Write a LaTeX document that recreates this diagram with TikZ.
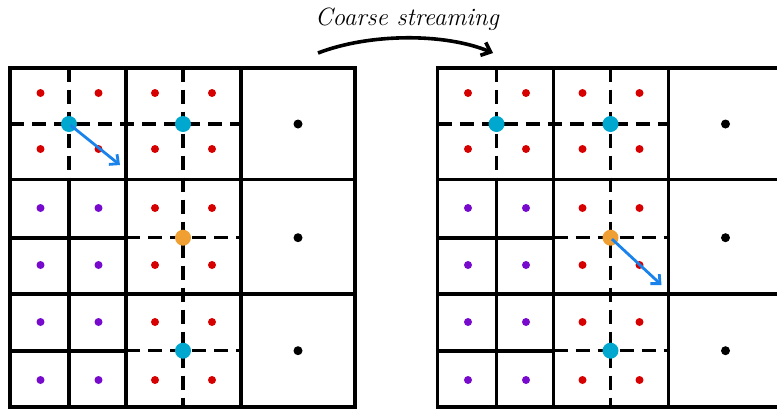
\documentclass[tikz,border=0pt]{standalone}
\usetikzlibrary{arrows.meta}
\definecolor{dred}{RGB}{215,0,0}
\definecolor{dpurple}{RGB}{120,10,205}
\definecolor{dcyan}{RGB}{0,168,208}
\definecolor{dorange}{RGB}{240,160,50}
\definecolor{dblue}{RGB}{25,130,235}
\tikzset{
  gridline/.style={line width=3.6pt, line cap=rect},
  dashline/.style={line width=3.2pt, dash pattern=on 14pt off 8pt},
  smalldot/.style={circle, fill=#1, inner sep=0pt, minimum size=8pt},
  bigdot/.style={circle, fill=#1, inner sep=0pt, minimum size=16pt},
  blackdot/.style={circle, fill=black, inner sep=0pt, minimum size=9pt},
  velarrow/.style={line width=2.8pt, dblue, -{Straight Barb[length=7pt,width=13pt]}, shorten <=2pt},
}
\newcommand{\latticegrid}{%
  % dashed lines
  \draw[dashline] (10,124) -- (241,124);
  \draw[dashline] (69,67.7) -- (69,179.3);
  \draw[dashline] (183,67.7) -- (183,406.7);
  \draw[dashline] (126,237.7) -- (241,237.7);
  \draw[dashline] (126,350.7) -- (241,350.7);
  % solid grid
  \draw[gridline] (10,67.7) rectangle (355,406.7);
  \draw[gridline] (126,67.7) -- (126,406.7);
  \draw[gridline] (241,67.7) -- (241,406.7);
  \draw[gridline] (10,179.3) -- (355,179.3);
  \draw[gridline] (10,293.7) -- (355,293.7);
  \draw[gridline] (69,179.3) -- (69,406.7);
  \draw[gridline] (10,237.7) -- (126,237.7);
  \draw[gridline] (10,350.7) -- (126,350.7);
  % fine dots
  \foreach \x/\i in {40.5/1,98.5/2}{
    \foreach \y/\j in {93/1,149/2}{\node[smalldot=dred] (r\i\j) at (\x,\y) {};}
    \foreach \y/\j in {208/3,265/4,322/5,380/6}{\node[smalldot=dpurple] (p\i\j) at (\x,\y) {};}
  }
  \foreach \x/\i in {155/3,212/4}{
    \foreach \y/\j in {93/1,149/2,208/3,265/4,322/5,380/6}{\node[smalldot=dred] (r\i\j) at (\x,\y) {};}
  }
  % coarse dots
  \foreach \y/\j in {124/1,237.7/2,350.7/3}{\node[blackdot] (k\j) at (298,\y) {};}
  \node[bigdot=dcyan] (c1) at (69,124) {};
  \node[bigdot=dcyan] (c2) at (183,124) {};
  \node[bigdot=dorange] (o1) at (183,237.7) {};
  \node[bigdot=dcyan] (c3) at (183,350.7) {};
}
\begin{document}
\begin{tikzpicture}[x=1pt,y=-1pt]
\useasboundingbox (0,0) rectangle (777,410);
\clip (0,0) rectangle (777,410);
\begin{scope}[name prefix=L-]
  \latticegrid
  \coordinate (tip) at (120,165);
  \draw[velarrow] (c1.center) -- (tip);
\end{scope}
\begin{scope}[xshift=427.5pt,name prefix=R-]
  \latticegrid
  \coordinate (tip) at (234,285);
  \draw[velarrow] (o1.center) -- (tip);
\end{scope}
\node[font=\itshape\fontsize{25}{28}\selectfont] (title) at (407,19) {Coarse streaming};
\coordinate (sa) at (318,53);
\coordinate (sb) at (493,53);
\draw[line width=3.6pt, -{Straight Barb[length=8pt,width=14pt]}] (sa) .. controls (370,33) and (445,33) .. (sb);
\end{tikzpicture}
\end{document}
